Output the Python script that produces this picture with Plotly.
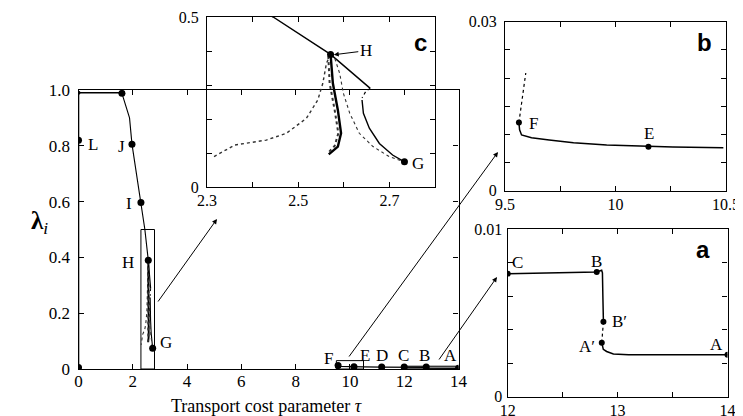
import plotly.graph_objects as go

W, H = 743, 416          # reference picture size
OFF = 8                  # default page margin of the html body
FW, FH = W - OFF, H - OFF
SERIF = "Liberation Serif, Times New Roman, DejaVu Serif, serif"

# ---------------- data ----------------
# main branch K' - K and the tau=0 branch
kk_x = [0, 1.6]
kk_y = [0.99, 0.99]
zero_x = [0, 0]
zero_y = [0.005, 0.99]
zero_pts_x = [0, 0, 0]
zero_pts_y = [0.005, 0.82, 0.99]

# main descending branch K -> J -> I -> H
main_x = [1.6, 1.88, 1.97, 2.30, 2.445, 2.571, 2.658]
main_y = [0.988, 0.90, 0.806, 0.597, 0.50, 0.39, 0.29]
main_pts_x = [1.6, 1.97, 2.30, 2.571, 2.733]
main_pts_y = [0.988, 0.806, 0.597, 0.39, 0.074]

# detailed curves near H / G (inset c)
cusp_x = [2.658, 2.649, 2.640]
cusp_y = [0.290, 0.283, 0.262]
g_solid_x = [2.640, 2.643, 2.656, 2.678, 2.707, 2.733]
g_solid_y = [0.256, 0.217, 0.173, 0.128, 0.094, 0.074]
g_dot_x = [2.571, 2.580, 2.591, 2.599, 2.613, 2.634, 2.664, 2.700, 2.728]
g_dot_y = [0.390, 0.379, 0.334, 0.276, 0.217, 0.158, 0.119, 0.089, 0.076]
left_dot_x = [2.571, 2.562, 2.554, 2.543, 2.518, 2.474, 2.430, 2.361, 2.312]
left_dot_y = [0.390, 0.364, 0.305, 0.256, 0.202, 0.158, 0.138, 0.1235, 0.087]
bundle1_x = [2.571, 2.576, 2.587, 2.594, 2.587, 2.567]
bundle1_y = [0.390, 0.305, 0.226, 0.158, 0.119, 0.096]
bundle2_x = [2.566, 2.569, 2.580, 2.588, 2.580, 2.564]
bundle2_y = [0.385, 0.305, 0.226, 0.158, 0.121, 0.098]

# inset b (F - E)
b_x = [9.563, 9.566, 9.575, 9.62, 9.70, 9.81, 9.96, 10.149, 10.26, 10.488]
b_y = [0.0121, 0.0108, 0.0099, 0.0094, 0.0090, 0.0085, 0.0081, 0.0078, 0.00775, 0.00763]
b_dot_x = [9.563, 9.594]
b_dot_y = [0.0121, 0.0209]
b_pts_x = [9.563, 10.149]
b_pts_y = [0.0121, 0.0078]

# point D (main only)
d_x = [11.17]
d_y = [0.007]

# inset a (C - B - B' - A' - A)
a_top_x = [12.0, 12.81, 12.855, 12.862, 12.866, 12.871]
a_top_y = [0.00735, 0.00745, 0.00755, 0.0074, 0.006, 0.00448]
a_dot_x = [12.871, 12.856]
a_dot_y = [0.00448, 0.00323]
a_low_x = [12.856, 12.862, 12.87, 12.90, 12.962, 13.1, 13.5, 14.0]
a_low_y = [0.00323, 0.0030, 0.00283, 0.0027, 0.00255, 0.0025, 0.0025, 0.0025]
a_pts_x = [12.0, 12.81, 12.871, 12.856, 14.0]
a_pts_y = [0.00735, 0.00745, 0.00448, 0.00323, 0.0025]

# axis ranges
main_xr, main_yr = [0, 14], [0, 1.0]
c_xr, c_yr = [2.3, 2.8], [0, 0.5]
b_xr, b_yr = [9.5, 10.5], [0, 0.03]
a_xr, a_yr = [12, 14], [0, 0.01]

main_xticks = [0, 2, 4, 6, 8, 10, 12, 14]
main_yticks = [0, 0.2, 0.4, 0.6, 0.8, 1.0]
main_ytext = ["0", "0.2", "0.4", "0.6", "0.8", "1.0"]
c_xticks = [2.3, 2.4, 2.5, 2.6, 2.7, 2.8]
c_xtext = ["2.3", "", "2.5", "", "2.7", ""]
c_yticks = [0, 0.1, 0.2, 0.3, 0.4, 0.5]
c_ytext = ["0", "", "", "", "", "0.5"]
b_xticks = [9.5, 9.75, 10, 10.25, 10.5]
b_xtext = ["9.5", "", "10", "", "10.5"]
b_yticks = [0, 0.005, 0.01, 0.015, 0.02, 0.025, 0.03]
b_ytext = ["0", "", "", "", "", "", "0.03"]
a_xticks = [12, 12.5, 13, 13.5, 14]
a_xtext = ["12", "", "13", "", "14"]
a_yticks = [0, 0.002, 0.004, 0.006, 0.008, 0.01]
a_ytext = ["0", "", "", "", "", "0.01"]

# ---------------- figure ----------------
fig = go.Figure()

def line(x, y, xa, ya, width=1.4, dash="solid", color="black"):
    fig.add_trace(go.Scatter(x=x, y=y, mode="lines", xaxis=xa, yaxis=ya,
                             line=dict(color=color, width=width, dash=dash),
                             showlegend=False, hoverinfo="skip"))

def pts(x, y, xa, ya, size=7):
    fig.add_trace(go.Scatter(x=x, y=y, mode="markers", xaxis=xa, yaxis=ya,
                             marker=dict(color="black", size=size),
                             showlegend=False, hoverinfo="skip"))

def hg_curves(xa, ya, scale=1.0):
    line(main_x, main_y, xa, ya, 1.4 * scale)
    line(cusp_x, cusp_y, xa, ya, 1.2 * scale, "dot")
    line(g_solid_x, g_solid_y, xa, ya, 1.4 * scale)
    line(g_dot_x, g_dot_y, xa, ya, 1.1 * scale, "dot", "#333")
    line(left_dot_x, left_dot_y, xa, ya, 1.4 * scale, "dot", "#333")
    line(bundle1_x, bundle1_y, xa, ya, 2.4 * scale)
    line(bundle2_x, bundle2_y, xa, ya, 2.0 * scale, "dot", "#333")

# main panel
line(zero_x, zero_y, "x", "y", 1.6)
line(kk_x, kk_y, "x", "y", 1.4)
hg_curves("x", "y", 0.8)
low_x = b_x + d_x + a_top_x + a_low_x[1:]
low_y = b_y + d_y + a_top_y + a_low_y[1:]
line(low_x, low_y, "x", "y", 1.2)
pts(zero_pts_x[:2], zero_pts_y[:2], "x", "y", 7)
pts(zero_pts_x[2:], zero_pts_y[2:], "x", "y", 4)
pts(main_pts_x, main_pts_y, "x", "y", 7)
pts(b_pts_x + d_x + a_pts_x[:2] + a_pts_x[4:],
    b_pts_y + d_y + a_pts_y[:2] + a_pts_y[4:], "x", "y", 7)

# inset c
hg_curves("x2", "y2", 1.0)
pts([main_pts_x[3], main_pts_x[4]], [main_pts_y[3], main_pts_y[4]], "x2", "y2", 7)

# inset b
line(b_x, b_y, "x3", "y3", 1.5)
line(b_dot_x, b_dot_y, "x3", "y3", 1.2, "dot")
pts(b_pts_x, b_pts_y, "x3", "y3", 6)

# inset a
line(a_top_x, a_top_y, "x4", "y4", 1.5)
line(a_dot_x, a_dot_y, "x4", "y4", 1.2, "dot")
line(a_low_x, a_low_y, "x4", "y4", 1.5)
pts(a_pts_x, a_pts_y, "x4", "y4", 6)

def px(p):
    return (p - OFF) / FW

def py(p):
    return 1 - (p - OFF) / FH

def dom(p0, p1):
    return [px(p0), px(p1)]

def domy(p_top, p_bot):
    return [py(p_bot), py(p_top)]

def ax(rng, tv, tt, domain, anchor, fs, standoff=0):
    return dict(range=rng, domain=domain, anchor=anchor, tickvals=tv, ticktext=tt,
                showline=True, linecolor="black", linewidth=1.3, mirror="ticks",
                ticks="inside", ticklen=5, tickwidth=1, tickcolor="black",
                showgrid=False, zeroline=False, automargin=False,
                ticklabelstandoff=standoff,
                tickfont=dict(family=SERIF, size=fs, color="black"))

fig.update_layout(
    template="none",
    width=FW, height=FH, autosize=False,
    margin=dict(l=0, r=0, t=0, b=0, pad=0),
    font=dict(family=SERIF, color="black"),
    paper_bgcolor="white", plot_bgcolor="rgba(0,0,0,0)",
    xaxis=ax(main_xr, main_xticks, [str(v) for v in main_xticks], dom(78.5, 458.5), "y", 17, -4),
    yaxis=ax(main_yr, main_yticks, main_ytext, domy(90, 369), "x", 17, 4),
    xaxis2=ax(c_xr, c_xticks, c_xtext, dom(207, 435), "y2", 16, -1),
    yaxis2=ax(c_yr, c_yticks, c_ytext, domy(17, 187), "x2", 16, 4),
    xaxis3=ax(b_xr, b_xticks, b_xtext, dom(505, 726), "y3", 16, -1),
    yaxis3=ax(b_yr, b_yticks, b_ytext, domy(21.7, 190.7), "x3", 16, 4),
    xaxis4=ax(a_xr, a_xticks, a_xtext, dom(507.7, 727.5), "y4", 16, -1),
    yaxis4=ax(a_yr, a_yticks, a_ytext, domy(229.3, 396.7), "x4", 16, 1),
)

# zoom rectangles in the main panel
for xr, yr, fill in [(c_xr, c_yr, "rgba(0,0,0,0)"), (b_xr, b_yr, "rgba(0,0,0,0)"),
                     (a_xr, a_yr, "rgba(120,120,120,0.6)")]:
    fig.add_shape(type="rect", xref="x", yref="y", x0=xr[0], x1=xr[1], y0=yr[0], y1=yr[1],
                  line=dict(color="black", width=1), fillcolor=fill, layer="below")

# point labels
lab = dict(font=dict(family=SERIF, size=17, color="black"), showarrow=False,
           xanchor="center", yanchor="middle")
main_labels = [("K′", 0.26, 1.038), ("K", 1.8, 1.038), ("L", 0.55, 0.806), ("J", 1.6, 0.797),
               ("I", 1.87, 0.594), ("H", 1.81, 0.382), ("G", 3.22, 0.094),
               ("F", 9.2, 0.036), ("E", 10.56, 0.05), ("D", 11.17, 0.05), ("C", 11.97, 0.05),
               ("B", 12.74, 0.05), ("A", 13.69, 0.05)]
for t, x, y in main_labels:
    fig.add_annotation(text=t, x=x, y=y, xref="x", yref="y", **lab)

fig.add_annotation(text="G", x=2.763, y=0.068, xref="x2", yref="y2", **lab)
fig.add_annotation(text="H", x=2.578, y=0.389, xref="x2", yref="y2",
                   ax=32, ay=-4, showarrow=True, arrowhead=2, arrowsize=1, arrowwidth=1,
                   arrowcolor="black", font=dict(family=SERIF, size=17, color="black"))
fig.add_annotation(text="F", x=9.63, y=0.0119, xref="x3", yref="y3", **lab)
fig.add_annotation(text="E", x=10.152, y=0.0101, xref="x3", yref="y3", **lab)
for t, x, y in [("C", 12.085, 0.0080), ("B", 12.81, 0.0081), ("B′", 13.02, 0.0045),
                ("A′", 12.72, 0.0030), ("A", 13.9, 0.0031)]:
    fig.add_annotation(text=t, x=x, y=y, xref="x4", yref="y4", **lab)

# panel letters
for t, lx, ly in [("c", 420, 42), ("b", 704, 42), ("a", 703, 249)]:
    fig.add_annotation(text="<b>" + t + "</b>", x=px(lx), y=py(ly), xref="paper", yref="paper",
                       xanchor="center", yanchor="middle", showarrow=False,
                       font=dict(family="Liberation Sans, Arial, sans-serif", size=24, color="black"))

# zoom arrows
for (hx, hy), (tx, ty) in [((217, 219), (157, 303)), ((498, 152), (348, 358)),
                           ((497, 277), (438, 361))]:
    fig.add_annotation(x=px(hx), y=py(hy), xref="paper", yref="paper",
                       ax=tx - hx, ay=ty - hy, axref="pixel", ayref="pixel", text="",
                       showarrow=True, arrowhead=2, arrowsize=1, arrowwidth=1, arrowcolor="black")

# axis titles
fig.add_annotation(text="<b>λ</b><sub><i>i</i></sub>", x=px(40), y=py(222), xref="paper", yref="paper",
                   xanchor="center", yanchor="middle",
                   showarrow=False, font=dict(family=SERIF, size=25, color="black"))
fig.add_annotation(text="Transport cost parameter <i>τ</i>", x=px(266), y=py(406),
                   xref="paper", yref="paper", xanchor="center", yanchor="middle", showarrow=False,
                   font=dict(family=SERIF, size=18, color="black"))

fig.write_html("out.html")
